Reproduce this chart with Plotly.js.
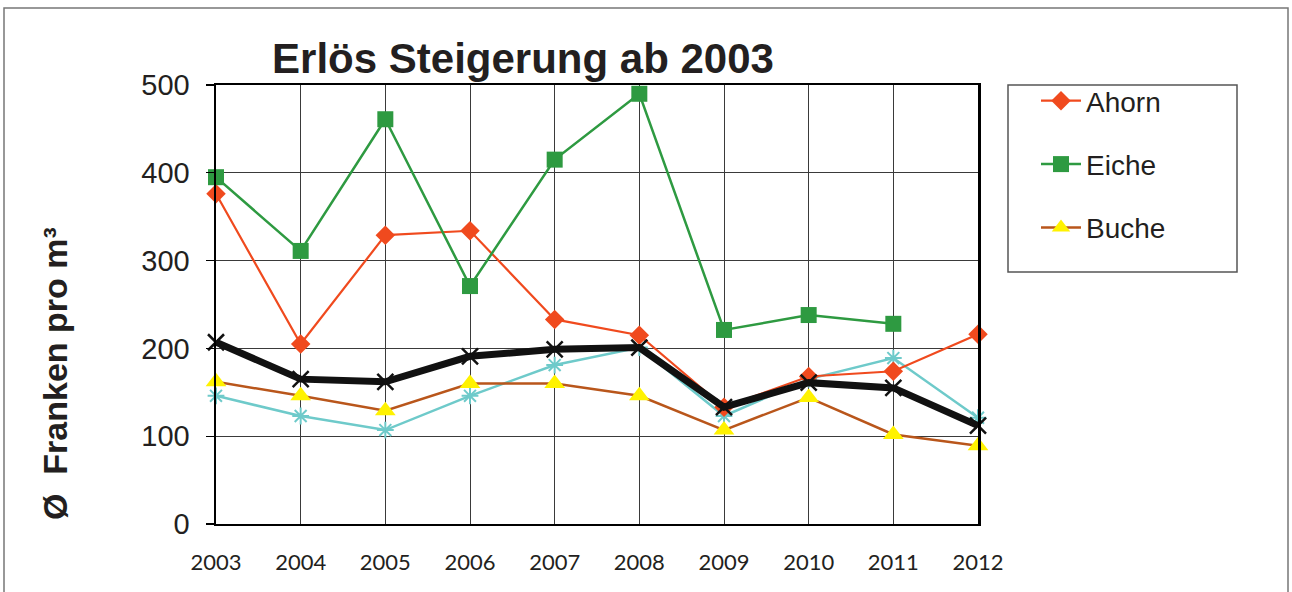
<!DOCTYPE html>
<html>
<head>
<meta charset="utf-8">
<script src="https://cdn.plot.ly/plotly-3.0.1.min.js"></script>
<style>
html,body{margin:0;padding:0;background:#fff;}
#chart{width:1292px;height:592px;}
</style>
</head>
<body>
<div id="chart"></div>
<script>
const years = [2003, 2004, 2005, 2006, 2007, 2008, 2009, 2010, 2011, 2012];
const ahorn = [376, 205, 329, 334, 233, 215, 133, 168, 174, 216];
const eiche = [395, 311, 461, 271, 415, 490, 221, 238, 228, null];
const buche = [162, 146, 129, 160, 160, 146, 107, 144, 102, 89];
const serie4 = [146, 123, 107, 146, 181, 201, 123, 165, 189, 121];
const serie5 = [207, 165, 162, 191, 199, 201, 133, 161, 155, 112];
const yTicks = [0, 100, 200, 300, 400, 500];

const traces = [
  {x: years, y: serie4, name: 'Serie 4', mode: 'lines+markers', showlegend: false,
   line: {color: '#6ECACA', width: 2.5},
   marker: {symbol: 'asterisk-open', size: 14, line: {color: '#6ECACA', width: 2}}},
  {x: years, y: ahorn, name: 'Ahorn', mode: 'lines+markers', legendrank: 1,
   line: {color: '#F04A1E', width: 2.2},
   marker: {symbol: 'diamond', size: 15, color: '#F04A1E'}},
  {x: years, y: eiche, name: 'Eiche', mode: 'lines+markers', legendrank: 2,
   line: {color: '#2E9A41', width: 2.5},
   marker: {symbol: 'square', size: 16, color: '#2E9A41'}},
  {x: years, y: buche, name: 'Buche', mode: 'lines+markers', legendrank: 3,
   line: {color: '#B9561B', width: 2.5},
   marker: {symbol: 'triangle-up', size: 18, color: '#FFF200'}},
  {x: years, y: serie5, name: 'Serie 5', mode: 'lines+markers', showlegend: false,
   line: {color: '#111111', width: 7},
   marker: {symbol: 'x-thin-open', size: 16, line: {color: '#000000', width: 2.5}}}
];
traces.forEach((t, i) => { t.cliponaxis = false; t.legendgroup = 'g' + i; });

const L = 216, R = 978, T = 85, B = 524;
const px = v => (v - L) / (R - L);
const py = v => (B - v) / (B - T);

const layout = {
  width: 1292, height: 592,
  margin: {l: L, r: 1292 - R, t: T, b: 592 - B},
  paper_bgcolor: '#ffffff', plot_bgcolor: '#ffffff',
  showlegend: true,
  font: {family: 'Liberation Sans, Arial, sans-serif', color: '#231F20'},
  title: {text: '<b>Erlös Steigerung ab 2003</b>',
          font: {family: 'Liberation Sans, Arial, sans-serif', size: 42, color: '#231F20'},
          xref: 'paper', x: px(523), xanchor: 'center',
          yref: 'container', y: 1 - 58 / 592, yanchor: 'middle'},
  xaxis: {range: [2003, 2012], tickmode: 'array', tickvals: years, ticktext: years.map(String),
          showgrid: true, gridcolor: '#3a3a3a', gridwidth: 1,
          showline: true, linecolor: '#000', linewidth: 2, mirror: true,
          ticks: '', zeroline: false, ticklabelstandoff: 18,
          tickfont: {family: 'Lato, Open Sans, sans-serif', size: 22, color: '#231F20'}},
  yaxis: {range: [0, 500], tickmode: 'array', tickvals: yTicks,
          showgrid: true, gridcolor: '#3a3a3a', gridwidth: 1,
          showline: true, linecolor: '#000', linewidth: 2.5, mirror: true,
          ticks: 'outside', ticklen: 8, tickcolor: '#000', tickwidth: 1.2,
          zeroline: false, ticklabelstandoff: 10,
          tickfont: {family: 'Liberation Sans, Arial, sans-serif', size: 29, color: '#231F20'}},
  legend: {x: px(1036), xanchor: 'left', y: py(76), yanchor: 'top',
           bgcolor: 'rgba(0,0,0,0)', borderwidth: 0,
           font: {family: 'Liberation Sans, Arial, sans-serif', size: 28, color: '#231F20'},
           traceorder: 'grouped', itemwidth: 40, tracegroupgap: 24},
  annotations: [
    {text: '<b>Ø  Franken pro m³</b>', textangle: -90, showarrow: false,
     xref: 'paper', yref: 'paper', x: px(55), y: py(374), xanchor: 'center', yanchor: 'middle',
     font: {family: 'Liberation Sans, Arial, sans-serif', size: 34, color: '#231F20'}}
  ],
  shapes: [
    {type: 'rect', xref: 'paper', yref: 'paper', x0: px(1008), x1: px(1237), y0: py(272), y1: py(85),
     line: {color: '#555', width: 1.5}, fillcolor: 'rgba(0,0,0,0)'},
    {type: 'rect', xref: 'paper', yref: 'paper', x0: px(4), x1: px(1288), y0: py(610), y1: py(8),
     line: {color: '#777', width: 1.5}, fillcolor: 'rgba(0,0,0,0)'}
  ]
};

Plotly.newPlot('chart', traces, layout, {displayModeBar: false, staticPlot: true});
</script>
</body>
</html>
